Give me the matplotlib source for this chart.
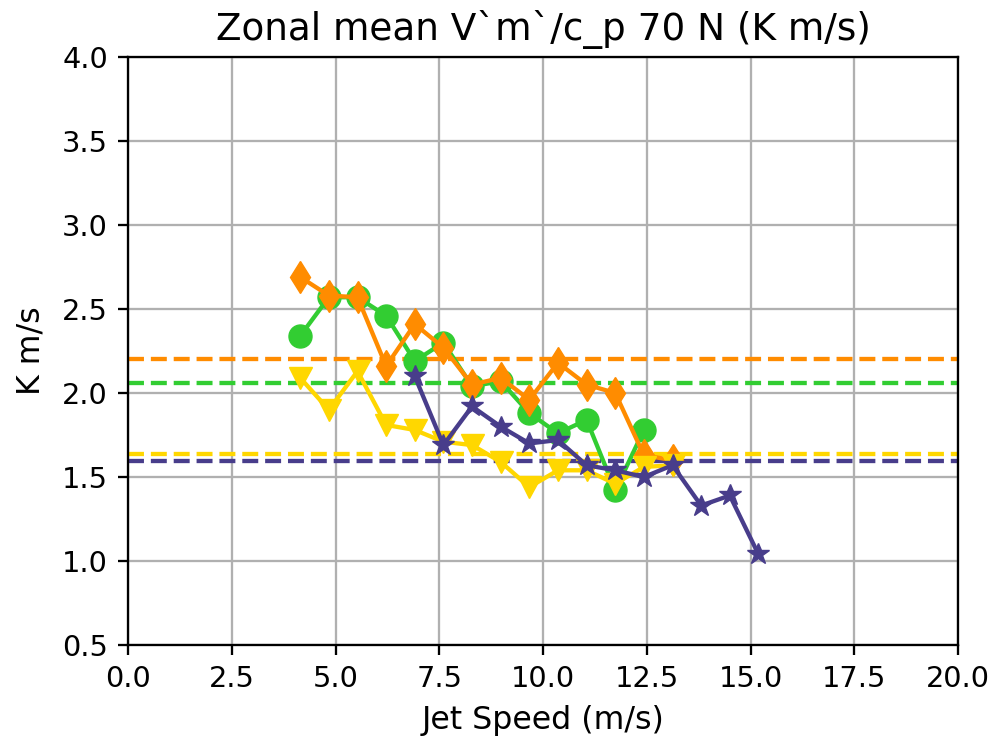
import matplotlib
matplotlib.use("Agg")
import matplotlib.pyplot as plt

# Jet-speed bins (m/s) and zonal-mean values (K m/s)
jet_green = [4.15, 4.84, 5.53, 6.22, 6.91, 7.60, 8.29, 8.98, 9.67, 10.36, 11.05, 11.74, 12.43]
val_green = [2.34, 2.57, 2.57, 2.46, 2.19, 2.30, 2.04, 2.07, 1.88, 1.76, 1.84, 1.42, 1.78]

jet_orange = [4.15, 4.84, 5.53, 6.22, 6.91, 7.60, 8.29, 8.98, 9.67, 10.36, 11.05, 11.74, 12.43, 13.12]
val_orange = [2.69, 2.58, 2.57, 2.16, 2.41, 2.27, 2.05, 2.09, 1.96, 2.18, 2.05, 2.00, 1.63, 1.60]

jet_gold = [4.15, 4.84, 5.53, 6.22, 6.91, 7.60, 8.29, 8.98, 9.67, 10.36, 11.05, 11.74, 12.43, 13.12]
val_gold = [2.09, 1.90, 2.13, 1.81, 1.78, 1.71, 1.69, 1.59, 1.44, 1.54, 1.54, 1.46, 1.56, 1.57]

jet_navy = [6.91, 7.60, 8.29, 8.98, 9.67, 10.36, 11.05, 11.74, 12.43, 13.12, 13.81, 14.50, 15.19]
val_navy = [2.10, 1.69, 1.92, 1.80, 1.70, 1.72, 1.57, 1.54, 1.50, 1.57, 1.33, 1.39, 1.04]

# Overall means
mean_orange = 2.20
mean_green = 2.06
mean_gold = 1.635
mean_navy = 1.595

S = 2.07  # scale of all point sizes for the 100-dpi canvas

plt.rcParams.update({
    "font.size": 10 * S,
    "axes.linewidth": 0.8 * S,
    "grid.linewidth": 0.8 * S,
    "xtick.major.size": 3.5 * S,
    "ytick.major.size": 3.5 * S,
    "xtick.major.width": 0.8 * S,
    "ytick.major.width": 0.8 * S,
    "xtick.major.pad": 3.5 * S,
    "ytick.major.pad": 3.5 * S,
    "axes.labelpad": 4.0 * S,
    "axes.titlepad": 6.0 * S,
    "lines.linewidth": 1.5 * S,
    "lines.markersize": 8 * S,
})

fig = plt.figure(figsize=(10.03, 7.45), dpi=100)
ax = fig.add_axes([0.1276, 0.1342, 0.8276, 0.7893])

series = [
    (jet_green, val_green, "#32CD32", "o"),
    (jet_orange, val_orange, "#FF8C00", "d"),
    (jet_gold, val_gold, "#FFD700", "v"),
    (jet_navy, val_navy, "#483D8B", "*"),
]
for x, y, c, m in series:
    ax.plot(x, y, color=c, marker=m, zorder=3)

for val, c in [(mean_orange, "#FF8C00"), (mean_green, "#32CD32"),
               (mean_gold, "#FFD700"), (mean_navy, "#483D8B")]:
    ax.axhline(val, color=c, ls="--", zorder=2)

ax.set_xlim(0, 20)
ax.set_ylim(0.5, 4.0)
ax.set_xticks([0, 2.5, 5, 7.5, 10, 12.5, 15, 17.5, 20])
ax.set_yticks([0.5, 1.0, 1.5, 2.0, 2.5, 3.0, 3.5, 4.0])
ax.grid(True, color="#b0b0b0")
ax.set_axisbelow(True)

ax.set_xlabel("Jet Speed (m/s)", fontsize=11 * S)
ax.set_ylabel("K m/s", fontsize=11 * S, labelpad=4.0 * S + 3)
ax.set_title("Zonal mean V`m`/c_p 70 N (K m/s)", fontsize=13 * S)

fig.savefig("out.png", dpi=100)
